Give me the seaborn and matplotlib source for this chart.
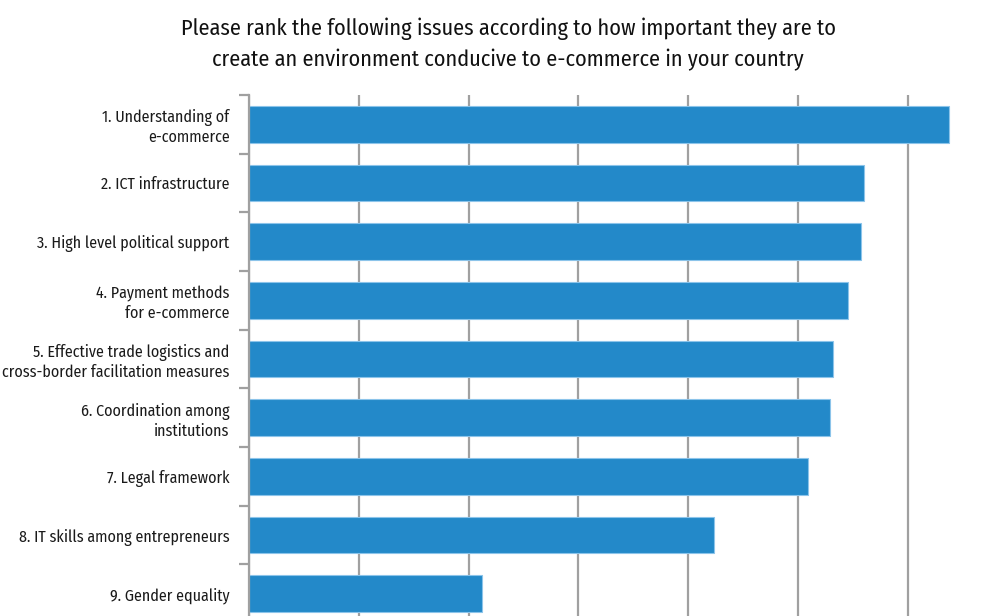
import matplotlib
matplotlib.use("Agg")
import matplotlib.pyplot as plt
import seaborn as sns
import pandas as pd
import numpy as np

issues = [
    "1. Understanding of\ne-commerce",
    "2. ICT infrastructure",
    "3. High level political support",
    "4. Payment methods\nfor e-commerce",
    "5. Effective trade logistics and\ncross-border facilitation measures",
    "6. Coordination among\ninstitutions",
    "7. Legal framework",
    "8. IT skills among entrepreneurs",
    "9. Gender equality",
]
scores = [6.38, 5.60, 5.57, 5.455, 5.32, 5.29, 5.09, 4.235, 2.12]

title = ("Please rank the following issues according to how important they are to\n"
         "create an environment conducive to e-commerce in your country")

sns.set_theme(style="white")
plt.rcParams["font.family"] = ["Fira Sans Condensed", "DejaVu Sans"]

df = pd.DataFrame({"issue": issues, "score": scores})

fig = plt.figure(figsize=(10.06, 6.16), dpi=100)
ax = fig.add_axes([0.2475, -0.0114, 0.764, 0.8572])

sns.barplot(data=df, y="issue", x="score", orient="h", color="#2389c9",
            saturation=1, width=0.63, edgecolor="#8cc4ea", linewidth=0.8, ax=ax)

ax.set_xlim(0, 7)
ax.set_ylim(len(issues) - 0.5, -0.5)
ax.set_xticks(np.arange(0, 8, 1))
ax.xaxis.grid(True, color="#a0a0a0", linewidth=1.6)
ax.set_axisbelow(True)
ax.tick_params(axis="x", bottom=False, labelbottom=False)

# category separators as outward ticks on the value axis
ax.set_yticks(np.arange(len(issues)))
ax.set_yticklabels(issues, fontsize=11.5, color="#1a1a1a", linespacing=1.25)
ax.set_yticks(np.arange(-0.5, len(issues), 1), minor=True)
ax.tick_params(axis="y", which="major", length=0, pad=14)
ax.tick_params(axis="y", which="minor", left=True, length=7, width=1.6, color="#a0a0a0")
for lbl in ax.get_yticklabels():
    lbl.set_horizontalalignment("right")

for side in ("top", "right", "bottom"):
    ax.spines[side].set_visible(False)
ax.spines["left"].set_color("#a0a0a0")
ax.spines["left"].set_linewidth(1.6)
ax.set_xlabel("")
ax.set_ylabel("")

fig.text(0.505, 0.972, title, ha="center", va="top", fontsize=16,
         color="#111111", linespacing=1.5)

fig.savefig("out.png", dpi=100)
